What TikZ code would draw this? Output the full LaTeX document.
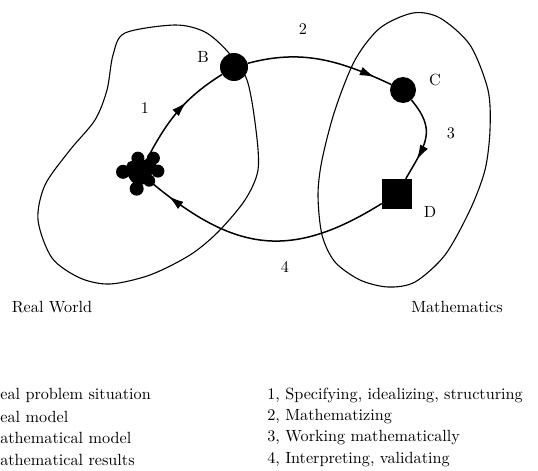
\documentclass[tikz,border=0pt]{standalone}
\usetikzlibrary{arrows.meta,decorations.markings}
\begin{document}
\begin{tikzpicture}[x=1pt,y=1pt,
		lab/.style={font=\fontsize{10}{12}\selectfont, scale=1.62},
		region/.style={line width=1.1pt},
		stage/.style={line width=1.5pt, postaction={decorate},
			decoration={markings, mark=at position #1 with {\arrow{Latex[length=15pt,width=9pt]}}}},
		stage/.default=0.6,
		dot/.style={circle, fill, inner sep=0pt, minimum size=#1}]
		\useasboundingbox (0,0) rectangle (538,-471);
		
		% the two worlds
		\draw[region] plot[smooth cycle] coordinates {(125,-33) (175,-25) (205,-32) (228,-52) (247,-80) (256,-130) (258,-170) (245,-200) (218,-232) (190,-255) (150,-275) (110,-284) (80,-278) (52,-258) (38,-220) (45,-185) (70,-150) (95,-120) (107,-90) (113,-55)};
		\draw[region] plot[smooth cycle] coordinates {(413,-13) (440,-18) (470,-45) (488,-90) (490,-130) (485,-170) (470,-210) (445,-255) (415,-282) (388,-287) (360,-280) (335,-262) (322,-235) (318,-195) (322,-160) (335,-110) (355,-60) (380,-28)};
		
		\node[circle, inner sep=0pt, minimum size=22pt] (A) at (140,-173) {};
		\fill[shift={(A)}] (0pt,0pt) circle (12pt) (98:15pt) circle (6.5pt) (48:20pt) circle (6.5pt) (40:12pt) circle (7pt) (6:18pt) circle (6.5pt) (-40:12pt) circle (6pt) (-102:16pt) circle (7pt) (176:17pt) circle (7pt) (140:11pt) circle (5pt);
		\node[dot=28pt] (B) at (234,-67) {};
		\node[dot=26pt] (C) at (403,-90) {};
		\node[rectangle, fill, inner sep=0pt, minimum size=30pt] (D) at (397,-194) {};
		
		\draw[stage=0.62] (A) to[out=63, in=212] (B);
		\draw[stage=0.88] (B) to[out=15, in=155] (C);
		\draw[stage=0.75] (C) to[out=-50, in=60, looseness=1.3] (D);
		\draw[stage=0.9] (D) to[out=212, in=-40, looseness=1.2] (A);
		
		\node[lab] (lbl1) at (145,-108) {1};
		\node[lab] (lblB) at (203,-57) {B};
		\node[lab] (lbl2) at (303,-29) {2};
		\node[lab] (lblC) at (435,-80) {C};
		\node[lab] (lbl3) at (451,-133) {3};
		\node[lab] (lblD) at (430,-212) {D};
		\node[lab] (lbl4) at (285,-267) {4};
		\node[lab] (real) at (52,-307) {Real World};
		\node[lab] (maths) at (457,-307) {Mathematics};
		
		\node[lab, anchor=west, inner sep=0pt] (sitA) at (0,-395) {eal problem situation};
		\node[lab, anchor=west, inner sep=0pt] (sitB) at (0,-417) {eal model};
		\node[lab, anchor=west, inner sep=0pt] (sitC) at (0,-438) {athematical model};
		\node[lab, anchor=west, inner sep=0pt] (sitD) at (0,-460) {athematical results};
		\node[lab, anchor=west, inner sep=0pt] (step1) at (267,-395) {1, Specifying, idealizing, structuring};
		\node[lab, anchor=west, inner sep=0pt] (step2) at (267,-417) {2, Mathematizing};
		\node[lab, anchor=west, inner sep=0pt] (step3) at (267,-438) {3, Working mathematically};
		\node[lab, anchor=west, inner sep=0pt] (step4) at (267,-460) {4, Interpreting, validating};
	\end{tikzpicture}
\end{document}
